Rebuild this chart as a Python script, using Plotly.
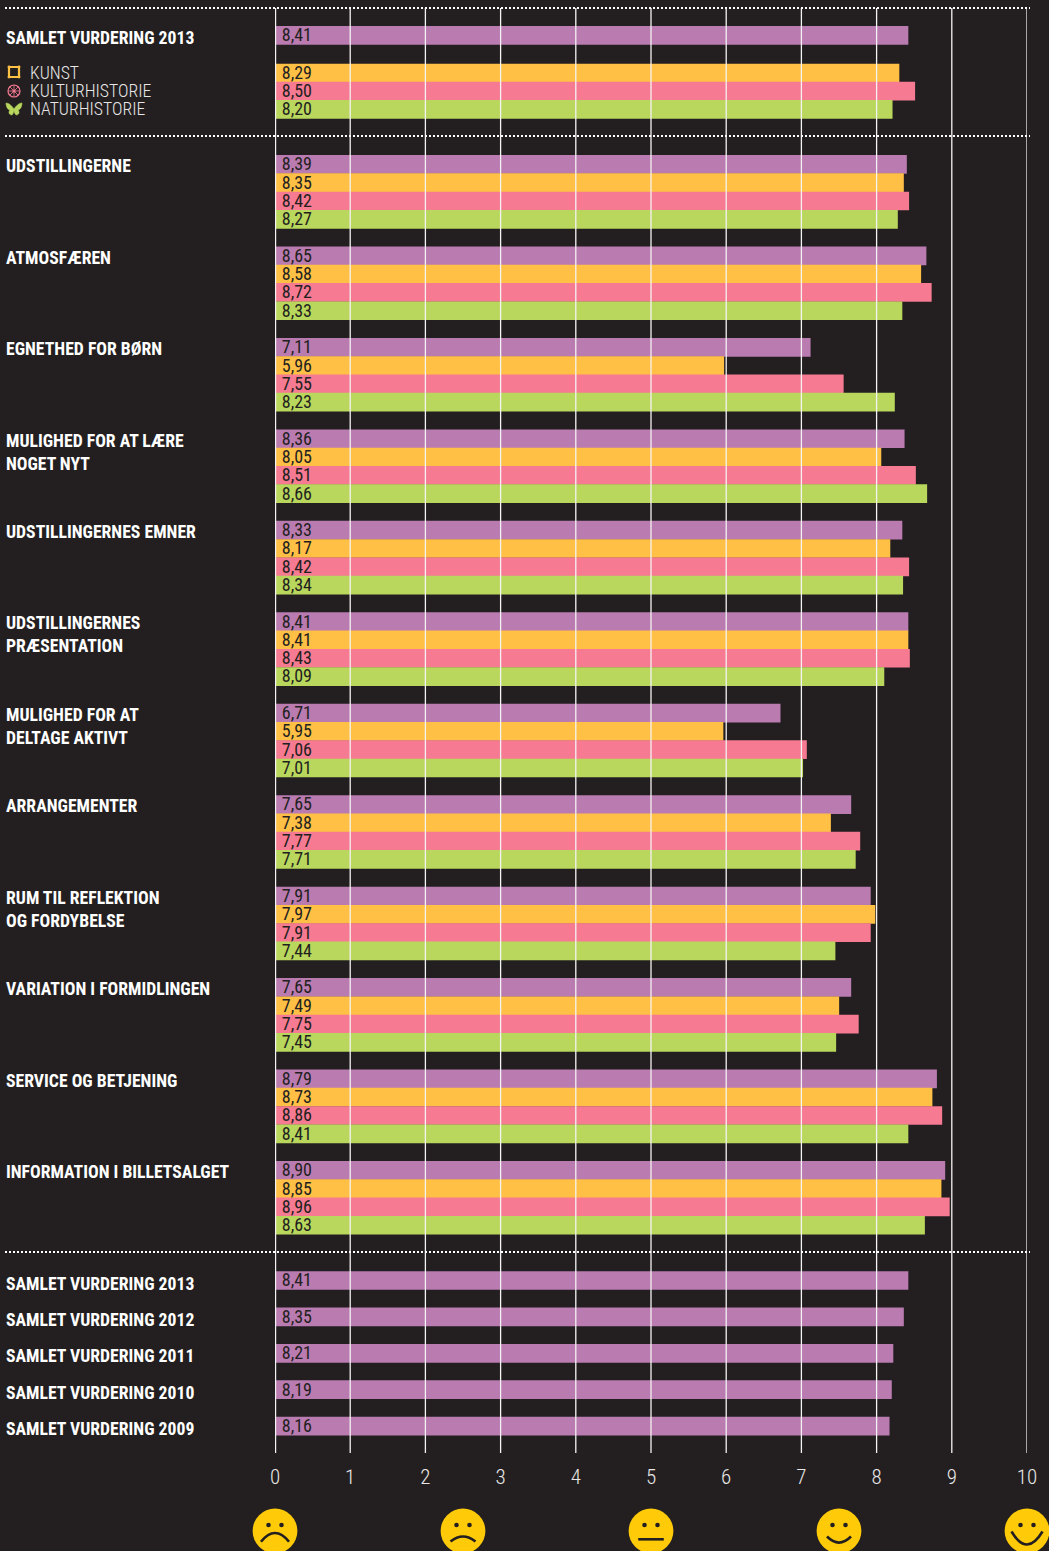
import plotly.graph_objects as go

# ---------- data ----------
overall_label = "SAMLET VURDERING 2013"
overall_value = 8.41
overall_split = [8.29, 8.50, 8.20]
legend_names = ["KUNST", "KULTURHISTORIE", "NATURHISTORIE"]

categories = ["UDSTILLINGERNE", "ATMOSFÆREN", "EGNETHED FOR BØRN",
              "MULIGHED FOR AT LÆRE<br>NOGET NYT", "UDSTILLINGERNES EMNER",
              "UDSTILLINGERNES<br>PRÆSENTATION", "MULIGHED FOR AT<br>DELTAGE AKTIVT",
              "ARRANGEMENTER", "RUM TIL REFLEKTION<br>OG FORDYBELSE",
              "VARIATION I FORMIDLINGEN", "SERVICE OG BETJENING",
              "INFORMATION I BILLETSALGET"]
samlet = [8.39, 8.65, 7.11, 8.36, 8.33, 8.41, 6.71, 7.65, 7.91, 7.65, 8.79, 8.90]
kunst = [8.35, 8.58, 5.96, 8.05, 8.17, 8.41, 5.95, 7.38, 7.97, 7.49, 8.73, 8.85]
kulturhistorie = [8.42, 8.72, 7.55, 8.51, 8.42, 8.43, 7.06, 7.77, 7.91, 7.75, 8.86, 8.96]
naturhistorie = [8.27, 8.33, 8.23, 8.66, 8.34, 8.09, 7.01, 7.71, 7.44, 7.45, 8.41, 8.63]

year_labels = ["SAMLET VURDERING 2013", "SAMLET VURDERING 2012", "SAMLET VURDERING 2011",
               "SAMLET VURDERING 2010", "SAMLET VURDERING 2009"]
year_values = [8.41, 8.35, 8.21, 8.19, 8.16]
tick_values = list(range(0, 11))

# ---------- style ----------
BG = "#231F20"
PURPLE, YELLOW, PINK, GREEN = "#B97BB0", "#FFC045", "#F57A92", "#B9D75C"
SMILE = "#FFCB08"
FONT = "Roboto Condensed"
LIGHT = "Roboto Condensed Light"
TOP, BOTTOM, LEFT, RIGHT = 0, 1453, 275, 1027
BAR_H, BAR_STEP, GROUP_STEP, YEAR_STEP = 18.7, 18.3, 91.45, 36.4


def row(i, k):
    return 164.4 + GROUP_STEP * i + BAR_STEP * k


over_y = 35.4
split_y = [73, 91.2, 109.4]
year_y = [1280.5 + YEAR_STEP * i for i in range(len(year_values))]

fig = go.Figure()
series = [
    ("Samlet", PURPLE, [overall_value] + samlet + year_values,
     [over_y] + [row(i, 0) for i in range(12)] + year_y),
    ("Kunst", YELLOW, [overall_split[0]] + kunst, [split_y[0]] + [row(i, 1) for i in range(12)]),
    ("Kulturhistorie", PINK, [overall_split[1]] + kulturhistorie, [split_y[1]] + [row(i, 2) for i in range(12)]),
    ("Naturhistorie", GREEN, [overall_split[2]] + naturhistorie, [split_y[2]] + [row(i, 3) for i in range(12)]),
]
for name, color, xs, ys in series:
    fig.add_trace(go.Bar(x=xs, y=ys, name=name, orientation="h", width=BAR_H, base=0.012,
                         marker=dict(color=color, line=dict(width=0)), showlegend=False,
                         hoverinfo="x+name"))
for name, color, xs, ys in series:
    fig.add_trace(go.Scatter(x=[0.09] * len(xs), y=[y + 1.4 for y in ys], mode="text",
                             text=[f"{v:.2f}".replace(".", ",") for v in xs],
                             textposition="middle right", cliponaxis=False, showlegend=False,
                             hoverinfo="skip",
                             textfont=dict(family=FONT, size=18, color=BG)))


def px(x):
    return (x - LEFT) / (RIGHT - LEFT)


def py(y):
    return 1 - (y - TOP) / (BOTTOM - TOP)


shapes = []
annos = []


def label(text, y):
    parts = text.split("<br>")
    for n, part in enumerate(parts):
        annos.append(dict(xref="paper", yref="y", x=px(6), y=y + 23 * n, text="<b>%s</b>" % part,
                          showarrow=False, xanchor="left", yanchor="middle", xshift=-2,
                          font=dict(family=FONT, size=17.7, color="#FFFFFF")))


label(overall_label, 37.5)
for nm, y in zip(legend_names, split_y):
    annos.append(dict(xref="paper", yref="y", x=px(30), y=y, text=nm, showarrow=False,
                      xanchor="left", yanchor="middle", xshift=-2,
                      font=dict(family=LIGHT, size=17.7, color="#E8E6E6")))
for i, c in enumerate(categories):
    label(c, row(i, 0) + 1.8)
for c, y in zip(year_labels, year_y):
    label(c, y + 3)

# grid above the bars
for t in tick_values:
    shapes.append(dict(type="line", xref="x", yref="y", x0=t, x1=t, y0=8, y1=BOTTOM, layer="above",
                       line=dict(color="#F4F2F2", width=2.4 if t == 0 else 1.3)))
# dotted separators
for y in [8, 136, 1252]:
    shapes.append(dict(type="line", xref="paper", yref="y", x0=px(5), x1=px(1030), y0=y, y1=y, layer="above",
                       line=dict(color="#FFFFFF", width=2.2, dash="2px,2px")))


def pix(kind, cx, cy, **kw):
    d = dict(type=kind, xref="paper", yref="paper", xsizemode="pixel", ysizemode="pixel",
             xanchor=px(cx), yanchor=py(cy), layer="above")
    d.update(kw)
    shapes.append(d)


def dot(cx, cy, r, **kw):
    pix("circle", cx, cy, x0=-r, x1=r, y0=-r, y1=r, **kw)


# smileys: offsets in px, y upward; mouth as quadratic curve
mouths = [(14, -10.7, -2.0), (12.5, -10.5, -5.5), (12.8, -8.3, -8.3), (12.0, -5.5, -11.5), (15.5, -0.5, -13.5)]
for i, (hw, yend, ymid) in enumerate(mouths):
    cx = LEFT + (RIGHT - LEFT) * i / 4
    cy = 1531
    dot(cx, cy, 22.4, fillcolor=SMILE, line=dict(width=0))
    for s in (-6.5, 6.5):
        dot(cx + s, cy - 6, 2.3, fillcolor=BG, line=dict(width=0))
    pix("path", cx, cy, path=f"M{-hw},{yend} Q0,{2 * ymid - yend} {hw},{yend}",
        line=dict(color=BG, width=2.6))

# legend icons
pix("path", 14, 72, path="M-5,-5 L5,-5 L5,5 L-5,5 Z", line=dict(color=YELLOW, width=2.2))
for ox, oy in [(-5, -5), (5, -5), (5, 5), (-5, 5)]:
    dot(14 + ox, 72 - oy, 1.4, fillcolor=YELLOW, line=dict(width=0))
dot(14, 91, 6, fillcolor="rgba(0,0,0,0)", line=dict(color=PINK, width=1.2))
dot(14, 91, 1.5, fillcolor=PINK, line=dict(width=0))
pix("path", 14, 91, path="M-6,0 L6,0 M0,-6 L0,6 M-4.2,-4.2 L4.2,4.2 M-4.2,4.2 L4.2,-4.2",
    line=dict(color=PINK, width=0.8))
pix("path", 14, 109,
    path="M0,0 C-2,3 -5,6 -8,6 C-8,2 -6,-1 -4,-1 C-6,-3 -5,-6 -2,-6 C-1,-5 0,-3 0,-1 "
         "C0,-3 1,-5 2,-6 C5,-6 6,-3 4,-1 C6,-1 8,2 8,6 C5,6 2,3 0,0 Z",
    fillcolor=GREEN, line=dict(color=GREEN, width=0.5))

fig.update_layout(
    width=1049, height=1551, margin=dict(l=LEFT, r=1049 - RIGHT, t=TOP, b=1551 - BOTTOM),
    paper_bgcolor=BG, plot_bgcolor=BG, barmode="overlay", shapes=shapes, annotations=annos,
    showlegend=False,
    xaxis=dict(range=[0, 10], tickmode="array", tickvals=tick_values,
               ticktext=[str(t) for t in tick_values], showgrid=False, zeroline=False, showline=False,
               ticks="outside", ticklen=5, tickcolor=BG,
               tickfont=dict(family=LIGHT, size=21, color="#E8E6E6")),
    yaxis=dict(range=[BOTTOM, TOP], showgrid=False, zeroline=False, showline=False, showticklabels=False,
               ticks=""),
)
fig.write_html("out.html", config={"displayModeBar": False},
               post_script="document.body.style.margin='0';document.body.style.background='%s';document.documentElement.style.overflow='hidden';" % BG)
